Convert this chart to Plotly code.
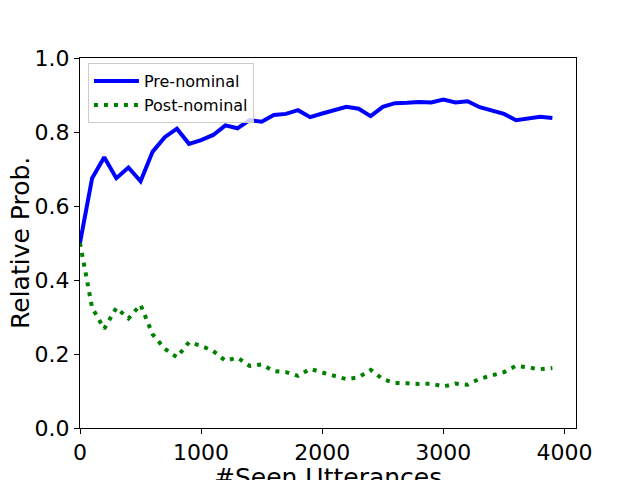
import plotly.graph_objects as go

seen = [0, 100, 200, 300, 400, 500, 600, 700, 800, 900,
        1000, 1100, 1200, 1300, 1400, 1500, 1600, 1700, 1800, 1900,
        2000, 2100, 2200, 2300, 2400, 2500, 2600, 2700, 2800, 2900,
        3000, 3100, 3200, 3300, 3400, 3500, 3600, 3700, 3800, 3900]

pre_nominal = [0.500, 0.675, 0.732, 0.675, 0.704, 0.667, 0.747, 0.786, 0.809, 0.768,
               0.778, 0.792, 0.818, 0.810, 0.832, 0.828, 0.846, 0.849, 0.859, 0.840,
               0.850, 0.859, 0.868, 0.863, 0.843, 0.868, 0.878, 0.879, 0.881, 0.880,
               0.888, 0.880, 0.883, 0.867, 0.858, 0.849, 0.832, 0.836, 0.841, 0.838]

post_nominal = [0.500, 0.325, 0.268, 0.325, 0.296, 0.333, 0.253, 0.214, 0.191, 0.232,
                0.222, 0.208, 0.182, 0.190, 0.168, 0.172, 0.154, 0.151, 0.141, 0.160,
                0.150, 0.141, 0.132, 0.137, 0.157, 0.132, 0.122, 0.121, 0.119, 0.120,
                0.112, 0.120, 0.117, 0.133, 0.142, 0.151, 0.168, 0.164, 0.159, 0.162]

x_ticks = [0, 1000, 2000, 3000, 4000]
y_ticks = [0.0, 0.2, 0.4, 0.6, 0.8, 1.0]
x_title = "#Seen Utterances"
y_title = "Relative Prob."

fig = go.Figure()
fig.add_trace(go.Scatter(x=seen, y=pre_nominal, mode="lines", name="Pre-nominal",
                         line=dict(color="#0000ff", width=4)))
fig.add_trace(go.Scatter(x=seen, y=post_nominal, mode="lines", name="Post-nominal",
                         line=dict(color="#008000", width=4, dash="4px,6px")))

font = "DejaVu Sans"
axis_common = dict(showgrid=False, zeroline=False, showline=True, linecolor="black",
                   linewidth=1, mirror=True, ticks="outside", ticklen=5, tickwidth=1,
                   tickcolor="black", tickfont=dict(family=font, size=22, color="black"),
                   automargin=False)

fig.update_layout(
    width=640, height=480,
    margin=dict(l=72, r=72, t=50, b=60),
    paper_bgcolor="white", plot_bgcolor="white",
    font=dict(family=font, color="black"),
    showlegend=True,
    legend=dict(x=0.016, y=0.986, xanchor="left", yanchor="top", itemwidth=45,
                bgcolor="rgba(255,255,255,0.8)", bordercolor="#cccccc", borderwidth=1,
                font=dict(family=font, size=16, color="black")),
    xaxis=dict(range=[0, 4095], tickvals=x_ticks, ticktext=[str(t) for t in x_ticks],
               **axis_common),
    yaxis=dict(range=[0, 1.0], tickvals=y_ticks, ticktext=[f"{t:.1f}" for t in y_ticks],
               **axis_common),
    annotations=[
        dict(text=x_title, xref="paper", yref="paper", x=0.5, y=0,
             xanchor="center", yanchor="top", yshift=-33, showarrow=False,
             font=dict(family=font, size=25, color="black")),
        dict(text=y_title, xref="paper", yref="paper", x=0, y=0.5, textangle=-90,
             xanchor="center", yanchor="middle", xshift=-60, showarrow=False,
             font=dict(family=font, size=25, color="black")),
    ],
)

fig.write_html("out.html")
